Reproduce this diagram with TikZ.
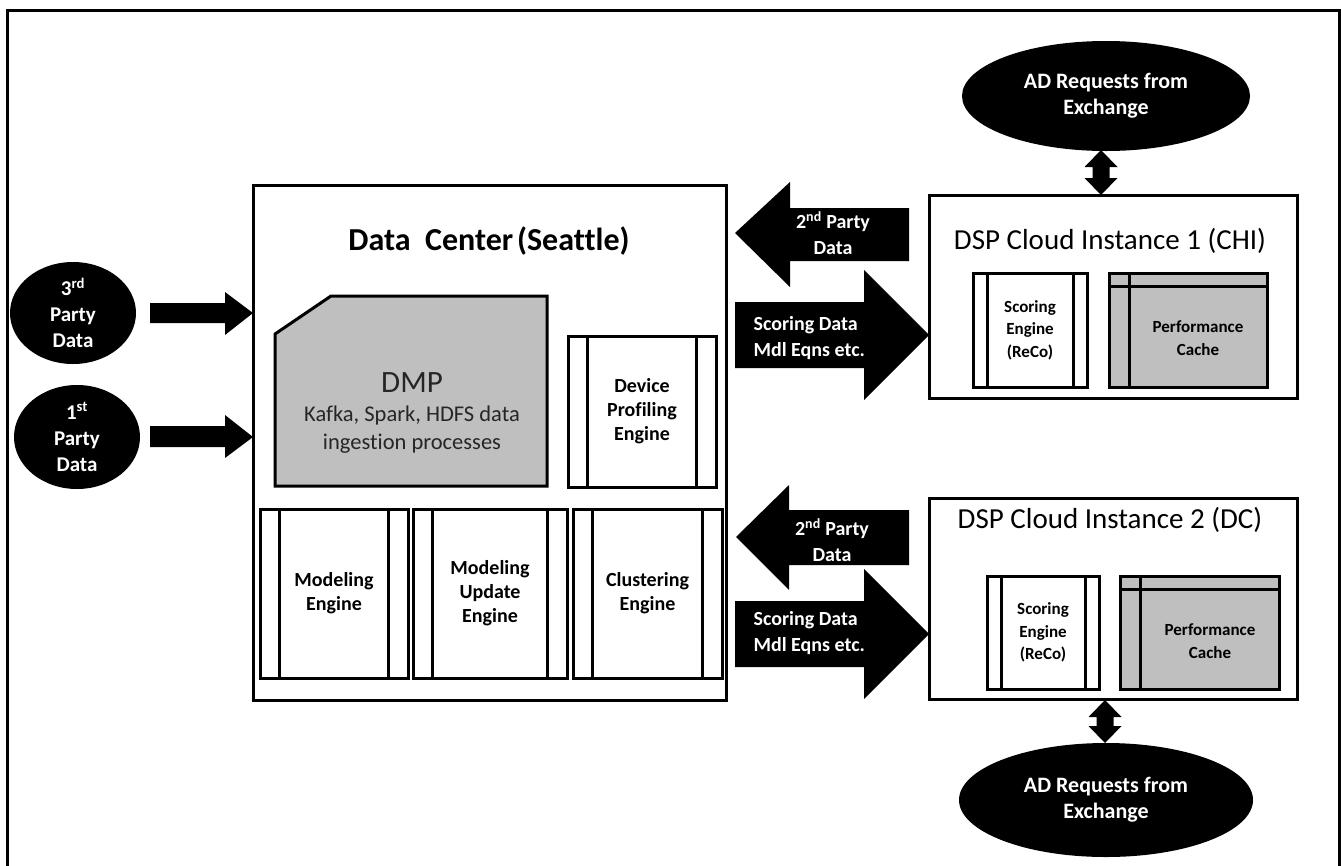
\documentclass[tikz,border=0pt]{standalone}
\usepackage{fontspec}
\setmainfont{Carlito}[Ligatures={NoCommon,NoContextual},RawFeature={-liga;-clig;-dlig}]
\usetikzlibrary{shapes.geometric,calc}
\definecolor{boxgray}{HTML}{BFBFBF}
\begin{document}
\begin{tikzpicture}[x=1pt,y=-1pt,
  lw/.style={line width=3pt},
  frame/.style={draw, line width=3pt, outer sep=0pt, inner sep=0pt},
  eng/.style={draw, line width=3pt, fill=white, outer sep=0pt, inner sep=0pt, align=center, font=\bfseries\fontsize{20}{24}\selectfont},
  small/.style={align=center, font=\bfseries\fontsize{17}{22.5}\selectfont},
  ell/.style={ellipse, fill=black, inner sep=0pt, text=white, align=center},
  wlab/.style={text=white, font=\bfseries\fontsize{20}{25.5}\selectfont},
  blk/.style={fill=black}
]
\useasboundingbox (0,0) rectangle (1341,865);
% outer frame
\draw[lw] (7,866) -- (7,10) -- (1339,10) -- (1339,866);

% left ellipses
\node[ell, minimum width=126, minimum height=102, font=\bfseries\fontsize{21}{26}\selectfont] (p3) at (73,313) {3\textsuperscript{rd}\\Party\\Data};
\node[ell, minimum width=126, minimum height=104, font=\bfseries\fontsize{21}{26}\selectfont] (p1) at (77,437) {1\textsuperscript{st}\\Party\\Data};

% data center
\node[frame, minimum width=473, minimum height=515] (dc) at (489.5,442.5) {};
\node[font=\bfseries\fontsize{32}{38}\selectfont] (dct) at (489,241) {Data\hspace{0.45em}Center\hspace{0.12em}(Seattle)};

% arrows into DC
\fill[blk] (150,303) -- (225,303) -- (225,292) -- (dc.west |- p3) -- (225,335) -- (225,323) -- (150,323) -- cycle;
\fill[blk] (150,426) -- (225,426) -- (225,415) -- (dc.west |- p1) -- (225,458) -- (225,447) -- (150,447) -- cycle;

% DMP
\draw[lw, fill=boxgray] (275,334) -- (331,296) -- (547,296) -- (547,486) -- (275,486) -- cycle;
\node[text=black!85, font=\fontsize{31}{36}\selectfont] (dmp) at (412,383) {DMP};
\node[text=black!85, align=center, font=\fontsize{22.5}{28}\selectfont] (dmpt) at (412,430) {Kafka, Spark, HDFS data\\ingestion processes};

% engines
\node[eng, minimum width=148, minimum height=151] (dev) at (642,411.5) {Device\\Profiling\\Engine};
\node[eng, minimum width=148, minimum height=169] (mod) at (334,593.5) {Modeling\\Engine};
\node[eng, minimum width=154, minimum height=169] (mup) at (490,593.5) {Modeling\\Update\\Engine};
\node[eng, minimum width=149, minimum height=169] (clu) at (647.5,593.5) {Clustering\\Engine};
\foreach \n in {dev,mod,mup,clu}{
  \draw[lw] ([xshift=19.5pt]\n.north west) -- ([xshift=19.5pt]\n.south west);
  \draw[lw] ([xshift=-19.5pt]\n.north east) -- ([xshift=-19.5pt]\n.south east);
}

% DSP instances
\node[frame, minimum width=368, minimum height=203] (dsp1) at (1113,296.5) {};
\node[font=\fontsize{29}{34}\selectfont] (dsp1t) at (1110,241) {DSP Cloud Instance 1 (CHI)};
\node[frame, minimum width=368, minimum height=201] (dsp2) at (1113,598.5) {};
\node[font=\fontsize{29}{34}\selectfont] (dsp2t) at (1110,520) {DSP Cloud Instance 2 (DC)};

\node[eng, small, minimum width=114, minimum height=114] (sc1) at (1030,330) {Scoring\\Engine\\(ReCo)};
\node[eng, small, minimum width=112, minimum height=113] (sc2) at (1043,632.5) {Scoring\\Engine\\(ReCo)};
\foreach \n in {sc1,sc2}{
  \draw[lw] ([xshift=14pt]\n.north west) -- ([xshift=14pt]\n.south west);
  \draw[lw] ([xshift=-14pt]\n.north east) -- ([xshift=-14pt]\n.south east);
}
\node[frame, fill=boxgray, minimum width=158, minimum height=114] (pc1) at (1188,330) {};
\node[frame, fill=boxgray, minimum width=159, minimum height=113] (pc2) at (1199.5,632.5) {};
\foreach \n in {pc1,pc2}{
  \draw[lw] ([yshift=-13pt]\n.north west) -- ([yshift=-13pt]\n.north east);
  \draw[lw] ([xshift=20pt]\n.north west) -- ([xshift=20pt]\n.south west);
}
\node[small] (pc1t) at (1198,338) {Performance\\Cache};
\node[small] (pc2t) at (1210,641) {Performance\\Cache};

% block arrows between DC and DSP
\fill[blk] (735,233) -- (790,182) -- (790,208) -- (909,208) -- (909,261) -- (790,261) -- (790,287) -- cycle;
\fill[blk] (735,302) -- (864,302) -- (864,270) -- (dsp1.west |- 0,335) -- (864,400) -- (864,368) -- (735,368) -- cycle;
\fill[blk] (736,537) -- (789,485) -- (789,510) -- (909,510) -- (909,565) -- (789,565) -- (789,590) -- cycle;
\fill[blk] (735,601) -- (864,601) -- (864,569) -- (dsp2.west |- 0,634) -- (864,699) -- (864,667) -- (735,667) -- cycle;
\node[wlab, align=center] (l2a) at (833,233) {2\textsuperscript{nd} Party\\Data};
\node[wlab, align=left, anchor=west] (l1a) at (750,338) {Scoring Data\\Mdl Eqns etc.};
\node[wlab, align=center] (l2b) at (832,540) {2\textsuperscript{nd} Party\\Data};
\node[wlab, align=left, anchor=west] (l1b) at (750,633) {Scoring Data\\Mdl Eqns etc.};

% AD request ellipses
\node[ell, minimum width=288, minimum height=110, font=\bfseries\fontsize{22}{26}\selectfont] (ad1) at (1106,96) {AD Requests from\\Exchange};
\node[ell, minimum width=294, minimum height=114, font=\bfseries\fontsize{22}{26}\selectfont] (ad2) at (1106,800) {AD Requests from\\Exchange};

% double arrows
\fill[blk] (1101,150) -- (1117.5,167) -- (1109.5,167) -- (1109.5,178) -- (1117.5,178) -- (1101,195) -- (1084.5,178) -- (1092.5,178) -- (1092.5,167) -- (1084.5,167) -- cycle;
\fill[blk] (1105,700) -- (1121.5,717) -- (1113.5,717) -- (1113.5,726) -- (1121.5,726) -- (1105,743) -- (1088.5,726) -- (1096.5,726) -- (1096.5,717) -- (1088.5,717) -- cycle;
\end{tikzpicture}
\end{document}
